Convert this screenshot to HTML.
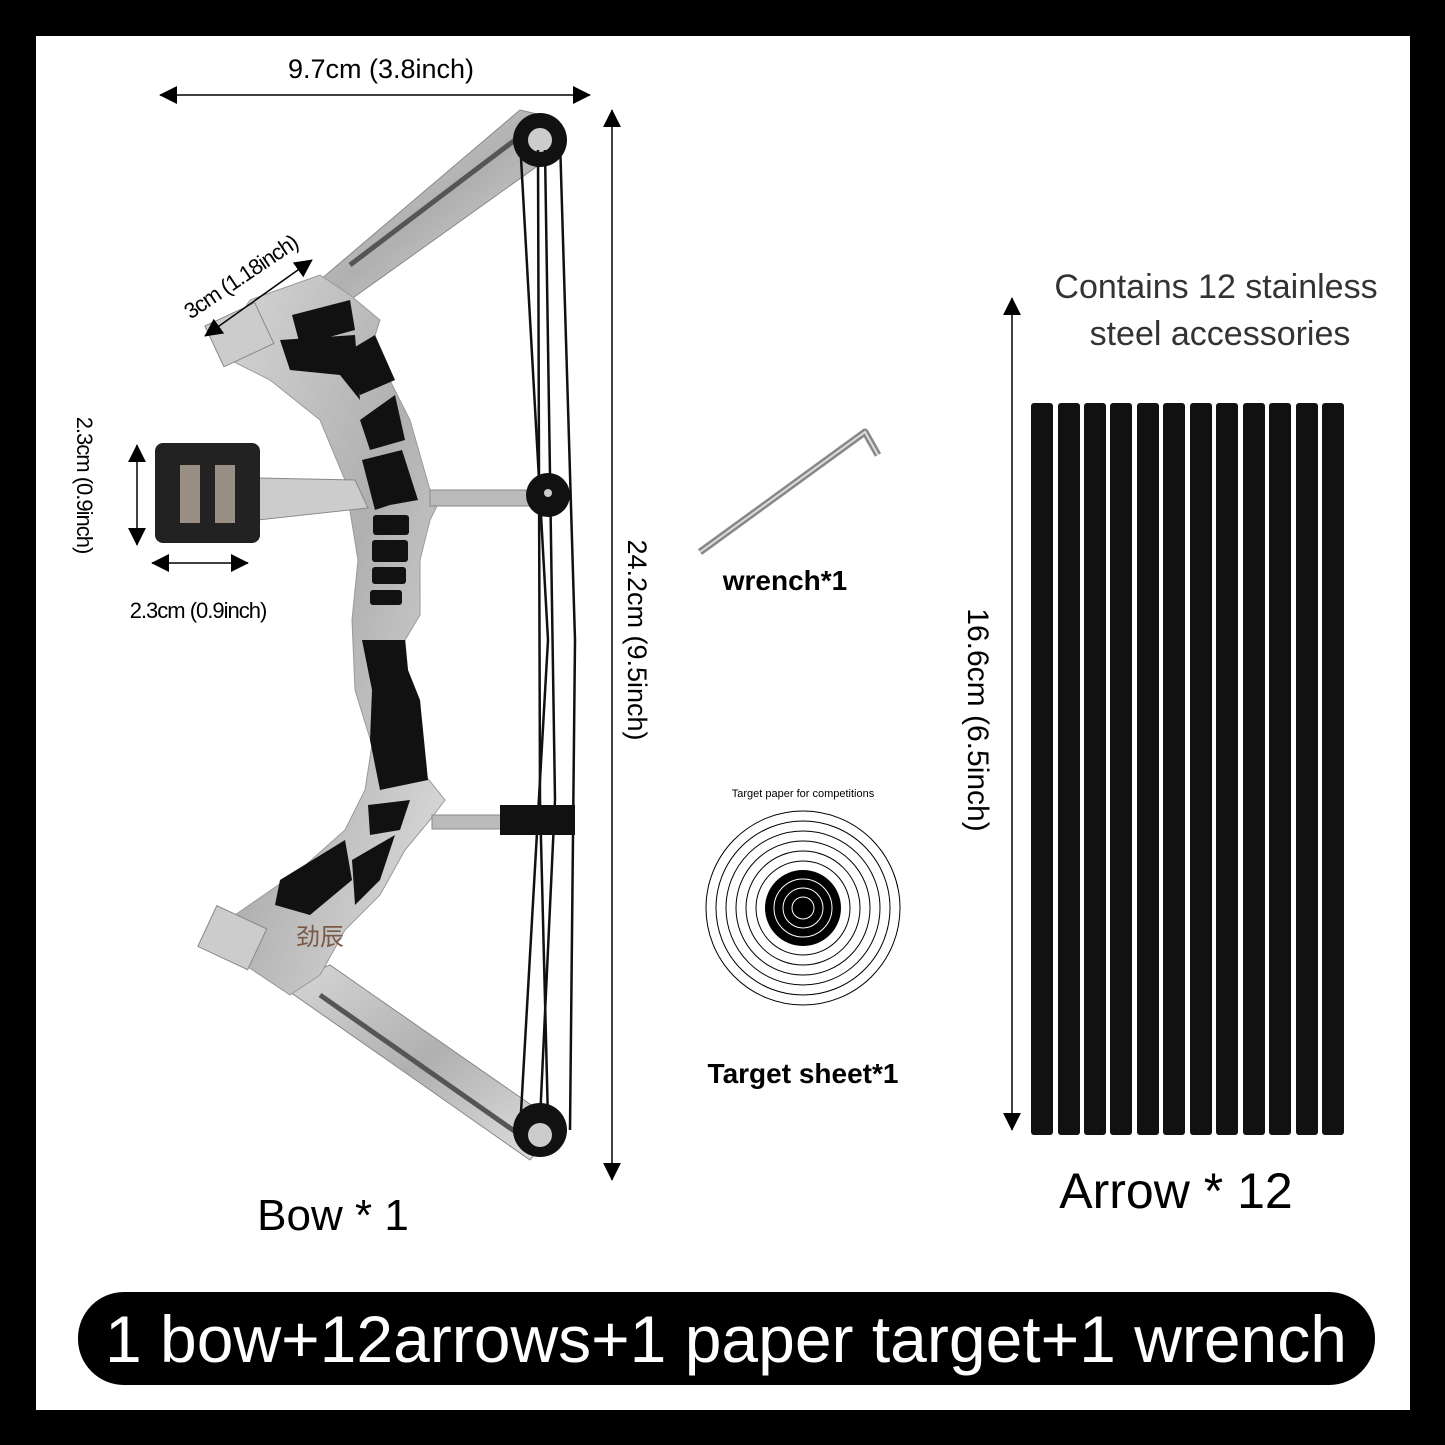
<!DOCTYPE html>
<html><head><meta charset="utf-8"><style>
html,body{margin:0;padding:0;background:#000}
svg{display:block}
text{font-family:"Liberation Sans",sans-serif}
</style></head><body>
<svg width="1445" height="1445" viewBox="0 0 1445 1445" xmlns="http://www.w3.org/2000/svg">
<defs>
<marker id="ab" viewBox="0 0 20 20" markerWidth="18" markerHeight="18" refX="19" refY="10" orient="auto-start-reverse" markerUnits="userSpaceOnUse"><path d="M0,0 L20,10 L0,20z" fill="#000"/></marker>
<linearGradient id="met" x1="0" y1="0" x2="1" y2="1"><stop offset="0" stop-color="#d8d8d8"/><stop offset="0.5" stop-color="#b0b0b0"/><stop offset="1" stop-color="#e2e2e2"/></linearGradient>
</defs>
<rect x="0" y="0" width="1445" height="1445" fill="#000"/>
<rect x="36" y="36" width="1374" height="1374" fill="#fff"/>

<line x1="160" y1="95" x2="590" y2="95" stroke="#000" stroke-width="1.5" marker-start="url(#ab)" marker-end="url(#ab)"/>
<text x="381" y="78" font-size="27" text-anchor="middle">9.7cm (3.8inch)</text>
<line x1="612" y1="110" x2="612" y2="1180" stroke="#000" stroke-width="1.5" marker-start="url(#ab)" marker-end="url(#ab)"/>
<text transform="translate(628,640) rotate(90)" font-size="27" text-anchor="middle">24.2cm (9.5inch)</text>

<polygon points="320,280 520,110 555,118 560,150 350,300" fill="url(#met)" stroke="#888"/>
<line x1="350" y1="265" x2="515" y2="140" stroke="#555" stroke-width="5"/>
<polygon points="280,985 330,965 560,1125 530,1160" fill="url(#met)" stroke="#888"/>
<line x1="320" y1="995" x2="520" y2="1135" stroke="#555" stroke-width="5"/>
<circle cx="540" cy="140" r="27" fill="#111"/><circle cx="540" cy="140" r="12" fill="#ccc"/>
<circle cx="540" cy="1130" r="27" fill="#111"/><circle cx="540" cy="1135" r="12" fill="#ccc"/>
<g stroke="#111" stroke-width="2.5" fill="none">
<path d="M560,140 L575,640 L570,1130"/>
<path d="M520,140 L548,640 L520,1130"/>
<path d="M538,150 L540,800 L548,1120"/>
<path d="M545,150 L555,800 L540,1120"/>
</g>
<path d="M230,330 L250,300 L320,275 L350,295 L380,320 L372,345 L410,420 L430,490 L440,500 L430,520 L420,560 L420,615 L405,640 L410,700 L425,775 L445,800 L430,820 L405,850 L380,895 L345,930 L320,975 L290,995 L245,965 L210,935 L235,915 L300,870 L345,830 L365,790 L372,745 L355,690 L352,620 L358,560 L345,480 L320,420 L270,380 L230,360 Z" fill="url(#met)" stroke="#999"/>
<g fill="#111">
<path d="M292,315 L350,300 L355,330 L300,345 Z"/>
<path d="M280,340 L355,335 L360,400 L340,375 L290,370 Z"/>
<path d="M350,350 L375,335 L395,380 L360,395 Z"/>
<path d="M360,420 L395,395 L405,440 L370,450 Z"/>
<path d="M362,460 L402,450 L418,500 L390,505 L375,510 Z"/>
<rect x="373" y="515" width="36" height="20" rx="3"/>
<rect x="372" y="540" width="36" height="22" rx="3"/>
<rect x="372" y="567" width="34" height="17" rx="3"/>
<rect x="370" y="590" width="32" height="15" rx="3"/>
<path d="M362,640 L405,640 L408,670 L420,700 L428,780 L380,790 L370,740 L372,690 Z"/>
<path d="M368,805 L410,800 L400,830 L370,835 Z"/>
<path d="M280,880 L345,840 L352,880 L310,915 L275,905 Z"/>
<path d="M352,860 L395,835 L380,880 L355,905 Z"/>
</g>
<rect x="212" y="312" width="55" height="45" fill="#ccc" stroke="#888" transform="rotate(-25 240 335)"/>
<rect x="205" y="915" width="55" height="45" fill="#ccc" stroke="#888" transform="rotate(25 232 937)"/>
<text x="320" y="945" font-size="24" fill="#7a5a45" text-anchor="middle" font-family="Noto Sans CJK SC,sans-serif">劲辰</text>
<rect x="430" y="490" width="110" height="16" fill="#bbb" stroke="#888"/>
<circle cx="548" cy="495" r="22" fill="#111"/><circle cx="548" cy="493" r="4" fill="#ccc"/>
<rect x="432" y="815" width="70" height="14" fill="#bbb" stroke="#888"/>
<rect x="500" y="805" width="75" height="30" fill="#111"/>
<polygon points="258,478 355,480 368,508 258,520" fill="#ccc" stroke="#888"/>
<rect x="155" y="443" width="105" height="100" rx="8" fill="#222"/>
<rect x="180" y="465" width="20" height="58" fill="#9a8f85"/>
<rect x="215" y="465" width="20" height="58" fill="#9a8f85"/>
<line x1="137" y1="445" x2="137" y2="545" stroke="#000" stroke-width="1.5" marker-start="url(#ab)" marker-end="url(#ab)"/>
<line x1="152" y1="563" x2="248" y2="563" stroke="#000" stroke-width="1.5" marker-start="url(#ab)" marker-end="url(#ab)"/>
<text transform="translate(77,485) rotate(90)" font-size="22" text-anchor="middle" letter-spacing="-1">2.3cm (0.9inch)</text>
<text x="198" y="618" font-size="22" text-anchor="middle" letter-spacing="-1">2.3cm (0.9inch)</text>
<line x1="205" y1="336" x2="312" y2="260" stroke="#000" stroke-width="1.5" marker-start="url(#ab)" marker-end="url(#ab)"/>
<text transform="translate(245,283) rotate(-34)" font-size="22" text-anchor="middle" letter-spacing="-1">3cm (1.18inch)</text>
<text x="333" y="1230" font-size="44" text-anchor="middle">Bow * 1</text>

<path d="M700,552 L865,432 L878,455" stroke="#888" stroke-width="7" fill="none" stroke-linejoin="round"/>
<path d="M700,552 L865,432 L878,455" stroke="#ddd" stroke-width="2" fill="none"/>
<text x="785" y="590" font-size="28" font-weight="bold" text-anchor="middle">wrench*1</text>

<text x="803" y="797" font-size="11" text-anchor="middle">Target paper for competitions</text>
<g fill="none" stroke="#000" stroke-width="1">
<circle cx="803" cy="908" r="97"/><circle cx="803" cy="908" r="87"/><circle cx="803" cy="908" r="77"/><circle cx="803" cy="908" r="67"/><circle cx="803" cy="908" r="57"/><circle cx="803" cy="908" r="47"/>
</g>
<circle cx="803" cy="908" r="38" fill="#000"/>
<g fill="none" stroke="#fff" stroke-width="1"><circle cx="803" cy="908" r="29"/><circle cx="803" cy="908" r="20"/><circle cx="803" cy="908" r="11"/></g>
<text x="803" y="1083" font-size="28" font-weight="bold" text-anchor="middle">Target sheet*1</text>

<text x="1216" y="298" font-size="34" text-anchor="middle" fill="#333">Contains 12 stainless</text>
<text x="1220" y="345" font-size="34" text-anchor="middle" fill="#333">steel accessories</text>
<line x1="1012" y1="298" x2="1012" y2="1130" stroke="#000" stroke-width="1.5" marker-start="url(#ab)" marker-end="url(#ab)"/>
<text transform="translate(968,720) rotate(90)" font-size="30" text-anchor="middle">16.6cm (6.5inch)</text>
<g fill="#111">
<rect x="1031" y="403" width="22" height="732" rx="3"/>
<rect x="1058" y="403" width="22" height="732" rx="3"/>
<rect x="1084" y="403" width="22" height="732" rx="3"/>
<rect x="1110" y="403" width="22" height="732" rx="3"/>
<rect x="1137" y="403" width="22" height="732" rx="3"/>
<rect x="1163" y="403" width="22" height="732" rx="3"/>
<rect x="1190" y="403" width="22" height="732" rx="3"/>
<rect x="1216" y="403" width="22" height="732" rx="3"/>
<rect x="1243" y="403" width="22" height="732" rx="3"/>
<rect x="1269" y="403" width="22" height="732" rx="3"/>
<rect x="1296" y="403" width="22" height="732" rx="3"/>
<rect x="1322" y="403" width="22" height="732" rx="3"/>
</g>
<text x="1176" y="1208" font-size="50" text-anchor="middle">Arrow * 12</text>

<rect x="78" y="1292" width="1297" height="93" rx="46" fill="#000"/>
<text x="726" y="1362" font-size="66" fill="#fff" text-anchor="middle">1 bow+12arrows+1 paper target+1 wrench</text>
</svg>
</body></html>
